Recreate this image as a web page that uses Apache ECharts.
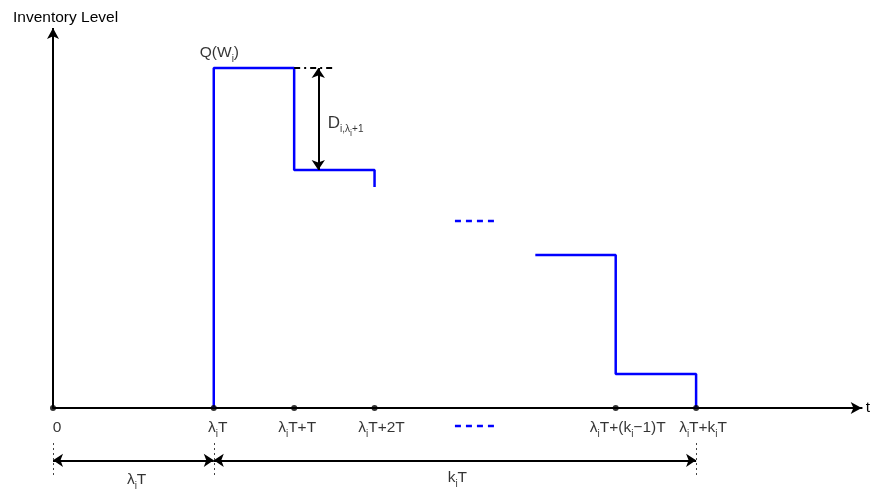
<!DOCTYPE html>
<html>
<head>
<meta charset="utf-8">
<script src="https://cdn.jsdelivr.net/npm/echarts@6/dist/echarts.min.js"></script>
<style>
  html, body { margin: 0; padding: 0; background: #fff; }
  #chart { width: 873px; height: 492px; }
</style>
</head>
<body>
<div id="chart"></div>
<script>
// Replenishment times on the time axis, in units of the period T
const tickTimes = [0, 2, 3, 4, 7, 8];
const tickLabels = [
  '{m|0}',
  '{m|λ}{s|i}{m|T}',
  '{m|λ}{s|i}{m|T+T}',
  '{m|λ}{s|i}{m|T+2T}',
  '{m|λ}{s|i}{m|T+(k}{s|i}{m|−1)T}',
  '{m|λ}{s|i}{m|T+k}{s|i}{m|T}'
];

// Inventory level over the first periods after the order arrives
const firstTimes = [2, 2, 3, 3, 4, 4];
const firstLevels = [0, 100, 100, 70, 70, 65];

// Inventory level over the last periods of the cycle
const lastTimes = [6, 7, 7, 8, 8];
const lastLevels = [45, 45, 10, 10, 0];

// Elided periods between the two pieces ("- - - -")
const gapTimes = [5, 5.52];
const gapLevel = 55;
const gapAxisLevel = -5.3;

// Order quantity and the first period's demand
const orderLevel = 100;
const demandLevel = 70;
const demandTime = 3.3;

// Horizontal spans: lead time λiT and cycle length kiT
const spanLevel = -15.4;
const spanEnds = [0, 2, 8];

const AXIS_MAX_X = 10.06;
const AXIS_MAX_Y = 112;
const AXIS_MIN_Y = -24;

const FONT = 'Liberation Sans, Arial, Helvetica, sans-serif';
const BLUE = '#0000ff';
const rich = {
  m: { fontSize: 15.5, color: '#000', fontFamily: FONT },
  s: { fontSize: 10, color: '#000', fontFamily: FONT, padding: [13, 0, 0, 0] },
  ss: { fontSize: 9, color: '#000', fontFamily: FONT, padding: [21, 0, 0, 0] }
};

function pairs(xs, ys) {
  return xs.map((x, i) => [x, ys[i]]);
}

// small nudges for the tick captions
const tickShift = [[4, 3.4], [4, 0], [3, 0], [7, 0], [12, 0], [7, 0]];

const chart = echarts.init(document.getElementById('chart'), null, { renderer: 'canvas' });

const option = {
  animation: false,
  backgroundColor: '#fff',
  title: {
    text: 'Inventory Level',
    left: 8,
    top: 4.5,
    textStyle: { fontFamily: FONT, fontSize: 15.5, fontWeight: 'normal', color: '#000' }
  },
  grid: { left: 53, right: 11, top: 27.2, bottom: 2.4, containLabel: false },
  xAxis: {
    type: 'value',
    min: 0,
    max: AXIS_MAX_X,
    name: 't',
    nameLocation: 'end',
    nameGap: 4,
    nameTextStyle: { fontFamily: FONT, fontSize: 15.5, color: '#000' },
    axisLine: {
      onZero: true,
      symbol: ['none', 'arrow'],
      symbolSize: [9, 11],
      lineStyle: { color: '#000', width: 2 }
    },
    axisTick: { show: false },
    axisLabel: { show: false },
    splitLine: { show: false }
  },
  yAxis: {
    type: 'value',
    min: AXIS_MIN_Y,
    max: AXIS_MAX_Y,
    axisLine: { show: false },
    axisTick: { show: false },
    axisLabel: { show: false },
    splitLine: { show: false }
  },
  series: [
    {
      // vertical inventory axis
      type: 'line',
      data: [],
      silent: true,
      markLine: {
        silent: true,
        symbol: ['none', 'arrow'],
        symbolSize: [9, 11],
        label: { show: false },
        lineStyle: { color: '#000', width: 2, type: 'solid' },
        data: [[{ coord: [0, 0] }, { coord: [0, 111.8] }]]
      }
    },
    {
      type: 'line',
      data: pairs(firstTimes, firstLevels),
      symbol: 'none',
      lineStyle: { color: BLUE, width: 2.5 },
      z: 3
    },
    {
      type: 'line',
      data: pairs(lastTimes, lastLevels),
      symbol: 'none',
      lineStyle: { color: BLUE, width: 2.5 },
      z: 3
    },
    {
      type: 'line',
      data: pairs(gapTimes, [gapLevel, gapLevel]),
      symbol: 'none',
      lineStyle: { color: BLUE, width: 2.5, type: [6, 5] }
    },
    {
      type: 'line',
      data: pairs(gapTimes, [gapAxisLevel, gapAxisLevel]),
      symbol: 'none',
      lineStyle: { color: BLUE, width: 2.5, type: [6, 5] }
    },
    {
      // dash-dot reference at the order level
      type: 'line',
      data: pairs([3, 3.49], [orderLevel, orderLevel]),
      symbol: 'none',
      lineStyle: { color: '#000', width: 2, type: [6, 4, 2, 4] },
      z: 4
    },
    {
      // demand of the first period and the span markers
      type: 'line',
      data: [],
      silent: true,
      markLine: {
        silent: true,
        symbol: ['arrow', 'arrow'],
        symbolSize: [10, 10],
        label: { show: false },
        lineStyle: { color: '#000', width: 2, type: 'solid' },
        data: [
          [{ coord: [demandTime, orderLevel] }, { coord: [demandTime, demandLevel] }],
          [{ coord: [spanEnds[0], spanLevel] }, { coord: [spanEnds[1], spanLevel] }],
          [{ coord: [spanEnds[1], spanLevel] }, { coord: [spanEnds[2], spanLevel] }]
        ]
      }
    },
    {
      // dotted guides below the span ends
      type: 'line',
      data: [],
      silent: true,
      markLine: {
        silent: true,
        symbol: ['none', 'none'],
        label: { show: false },
        lineStyle: { color: '#444', width: 1, type: [2, 3] },
        data: spanEnds.map(t => [{ coord: [t, -10.3] }, { coord: [t, -20.6] }])
      }
    },
    {
      // time points with their captions
      type: 'scatter',
      symbol: 'circle',
      symbolSize: 6,
      itemStyle: { color: '#000' },
      z: 5,
      data: tickTimes.map((t, i) => ({
        value: [t, 0],
        label: {
          show: true,
          position: 'bottom',
          distance: 5,
          offset: tickShift[i],
          formatter: tickLabels[i],
          rich: rich
        }
      }))
    },
    {
      // text annotations
      type: 'scatter',
      symbolSize: 0,
      silent: true,
      label: { show: true, position: 'inside', rich: rich },
      data: [
        { value: [2.07, 104.6], label: { formatter: '{m|Q(W}{s|i}{m|)}' } },
        { value: [3.64, 83.8], label: { formatter: '{d|D}{s|i,λ}{ss|i}{s|+1}', rich: Object.assign({ d: { fontSize: 17, color: '#000', fontFamily: FONT } }, rich) } },
        { value: [1.04, -21.2], label: { formatter: '{m|λ}{s|i}{m|T}' } },
        { value: [5.03, -20.6], label: { formatter: '{m|k}{s|i}{m|T}' } }
      ]
    }
  ]
};

chart.setOption(option);
</script>
</body>
</html>
